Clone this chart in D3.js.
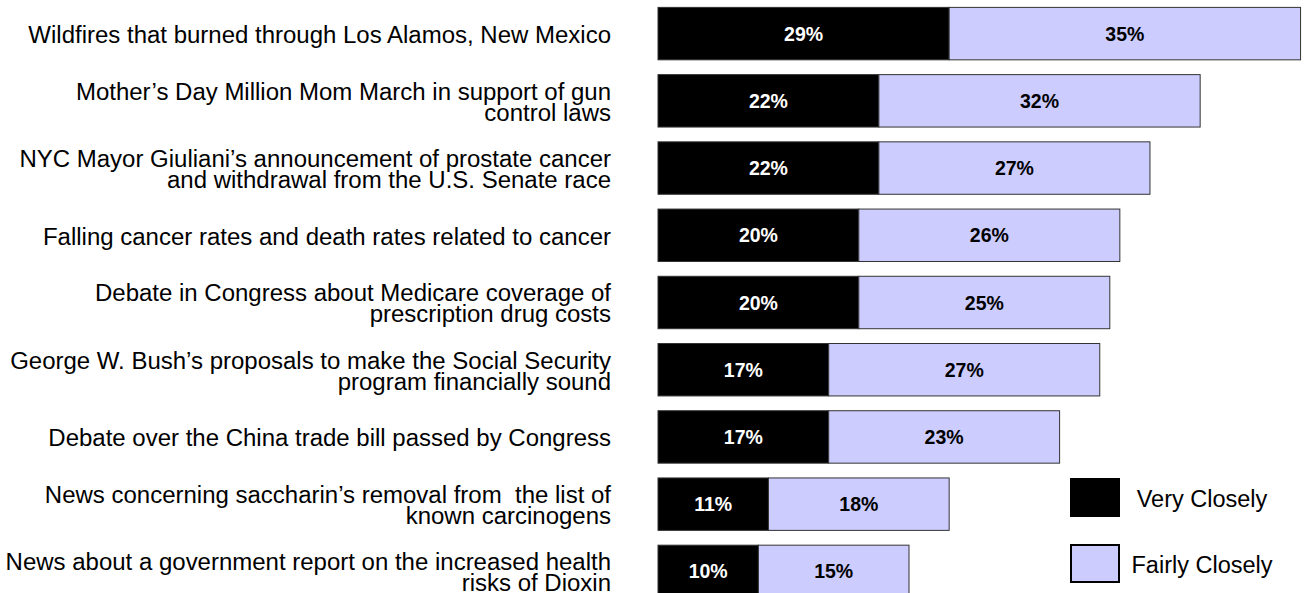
<!DOCTYPE html>
<html>
<head>
<meta charset="utf-8">
<script src="https://cdn.jsdelivr.net/npm/d3@7"></script>
<style>
  html, body { margin: 0; padding: 0; background: #fff; }
  svg { display: block; font-family: "Liberation Sans", Arial, sans-serif; }
</style>
</head>
<body>
<svg id="chart" width="1307" height="593"></svg>
<script>
const categories = [
  "Wildfires that burned through Los Alamos, New Mexico",
  "Mother’s Day Million Mom March in support of gun\ncontrol laws",
  "NYC Mayor Giuliani’s announcement of prostate cancer\nand withdrawal from the U.S. Senate race",
  "Falling cancer rates and death rates related to cancer",
  "Debate in Congress about Medicare coverage of\nprescription drug costs",
  "George W. Bush’s proposals to make the Social Security\nprogram financially sound",
  "Debate over the China trade bill passed by Congress",
  "News concerning saccharin’s removal from  the list of\nknown carcinogens",
  "News about a government report on the increased health\nrisks of Dioxin"
];
const veryClosely = [29, 22, 22, 20, 20, 17, 17, 11, 10];
const fairlyClosely = [35, 32, 27, 26, 25, 27, 23, 18, 15];
const seriesNames = ["Very Closely", "Fairly Closely"];
const seriesColors = ["#000000", "#CCCCFF"];

const svg = d3.select("#chart");

const x = d3.scaleLinear().domain([0, 100]).range([658, 1662]);
const y = d3.scaleBand().domain(d3.range(categories.length)).range([0, 605])
  .paddingInner(0.22).paddingOuter(0.11);

const rows = categories.map((c, i) => ({ i, label: c, v: veryClosely[i], f: fairlyClosely[i] }));

const g = svg.append("g");

rows.forEach(r => {
  const segs = [
    { start: 0, val: r.v, color: seriesColors[0], text: "#fff" },
    { start: r.v, val: r.f, color: seriesColors[1], text: "#000" }
  ];
  const cy = y(r.i) + y.bandwidth() / 2;
  segs.forEach(s => {
    g.append("rect")
      .attr("x", x(s.start))
      .attr("y", y(r.i))
      .attr("width", x(s.start + s.val) - x(s.start))
      .attr("height", y.bandwidth())
      .attr("fill", s.color)
      .attr("stroke", "#333")
      .attr("stroke-width", 1);
    const cx = (x(s.start) + x(s.start + s.val)) / 2;
    g.append("text")
      .attr("x", cx)
      .attr("y", cy)
      .attr("dy", "0.36em")
      .attr("text-anchor", "middle")
      .attr("font-size", 19.5)
      .attr("font-weight", "bold")
      .attr("fill", s.text)
      .text(s.val + "%");
  });

  const lines = r.label.split("\n");
  lines.forEach((ln, k) => {
    const ly = cy + (k - (lines.length - 1) / 2) * 21 + 9.3;
    g.append("text")
      .attr("transform", `translate(611,${ly}) scale(1.03,1)`)
      .attr("text-anchor", "end")
      .attr("font-size", 23.3)
      .attr("fill", "#000")
      .style("white-space", "pre")
      .text(ln);
  });
});

const legend = svg.append("g");
const legY = [479, 545];
seriesNames.forEach((name, i) => {
  legend.append("rect")
    .attr("x", 1071).attr("y", legY[i])
    .attr("width", 48).attr("height", 37)
    .attr("fill", seriesColors[i])
    .attr("stroke", "#000").attr("stroke-width", 2);
  legend.append("text")
    .attr("x", 1202)
    .attr("y", legY[i] + 18.5)
    .attr("dy", "0.4em")
    .attr("text-anchor", "middle")
    .attr("font-size", 23.5)
    .attr("fill", "#000")
    .text(name);
});
</script>
</body>
</html>
